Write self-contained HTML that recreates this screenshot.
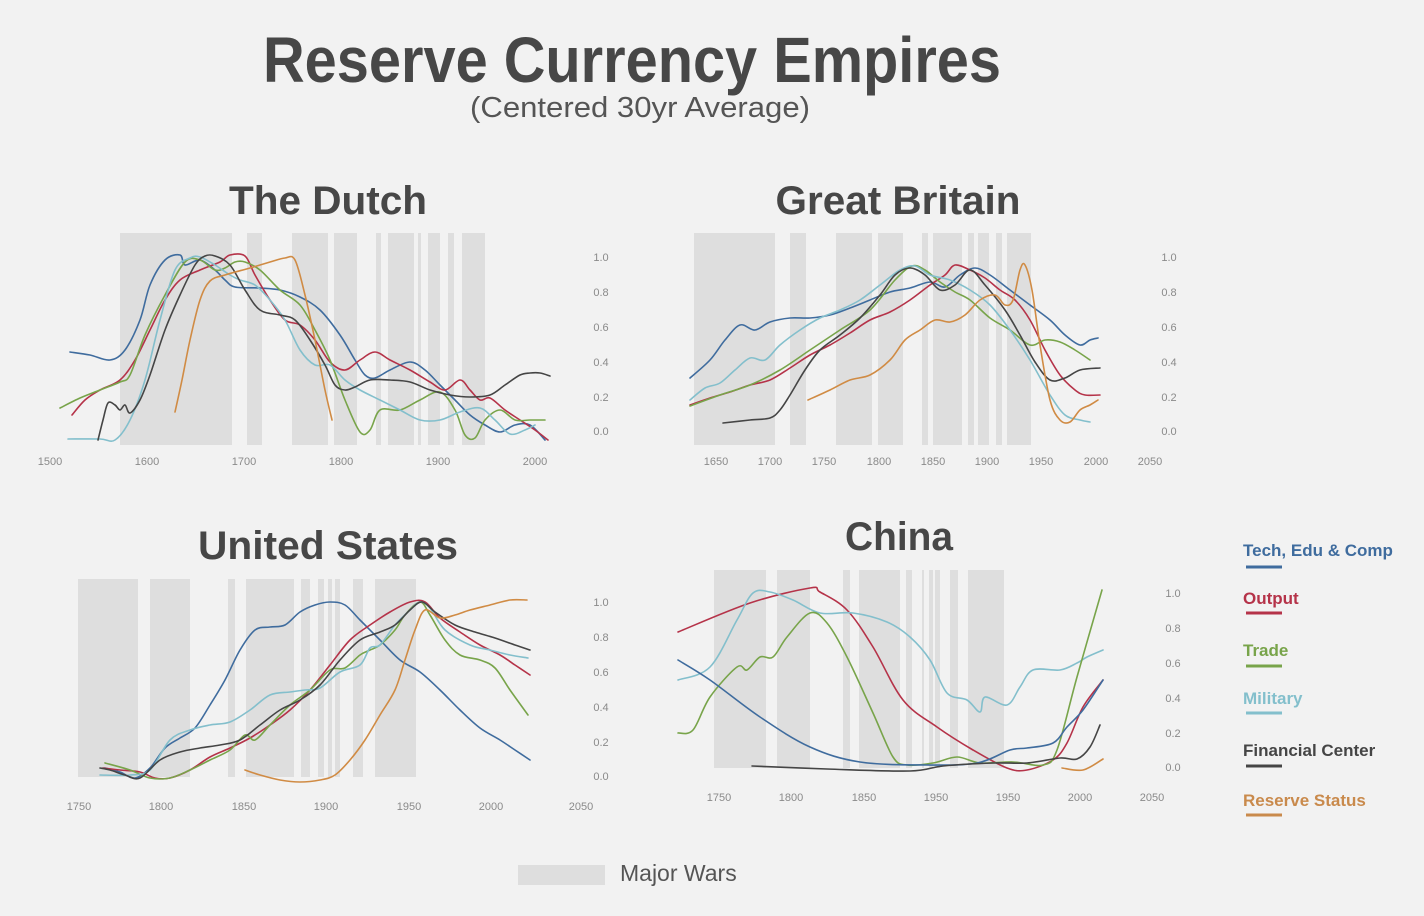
<!DOCTYPE html>
<html><head><meta charset="utf-8">
<style>
html,body{margin:0;padding:0;background:#f2f2f2;}
svg{display:block;font-family:"Liberation Sans",sans-serif;}
.t{font-weight:bold;fill:#474747;}
.tk{font-size:11px;fill:#8a8a8a;}
.w{fill:#dedede;}
path{fill:none;stroke-width:1.6;stroke-linejoin:round;stroke-linecap:round;}
.b{stroke:#3f6c9e}.r{stroke:#b53349}.g{stroke:#78a44a}.l{stroke:#83bfcc}.d{stroke:#454545}.o{stroke:#d08b44}
.lg{font-size:17px;font-weight:bold;}
</style></head><body>
<svg width="1424" height="916" viewBox="0 0 1424 916" xmlns="http://www.w3.org/2000/svg">
<rect width="1424" height="916" fill="#f2f2f2"/>
<text class="t" x="632" y="82" font-size="64" text-anchor="middle" textLength="738" lengthAdjust="spacingAndGlyphs">Reserve Currency Empires</text>
<text x="640" y="117" font-size="29" fill="#555" text-anchor="middle" textLength="340" lengthAdjust="spacingAndGlyphs">(Centered 30yr Average)</text>

<text class="t" x="328" y="214" font-size="40" text-anchor="middle" textLength="198" lengthAdjust="spacingAndGlyphs">The Dutch</text>
<text class="t" x="898" y="214" font-size="40" text-anchor="middle" textLength="245" lengthAdjust="spacingAndGlyphs">Great Britain</text>
<text class="t" x="328" y="559" font-size="40" text-anchor="middle" textLength="260" lengthAdjust="spacingAndGlyphs">United States</text>
<text class="t" x="899" y="550" font-size="40" text-anchor="middle" textLength="108" lengthAdjust="spacingAndGlyphs">China</text>

<g id="bars"></g>
<g id="ticks" class="tk"></g>
<g id="lines"></g>

<g class="lg">
<text x="1243" y="556" fill="#3f6c9e">Tech, Edu &amp; Comp</text>
<text x="1243" y="604" fill="#b53349">Output</text>
<text x="1243" y="656" fill="#78a44a">Trade</text>
<text x="1243" y="704" fill="#83bfcc">Military</text>
<text x="1243" y="756" fill="#454545">Financial Center</text>
<text x="1243" y="806" fill="#c98a4c">Reserve Status</text>
</g>
<g stroke-width="3">
<line x1="1246" x2="1282" y1="567" y2="567" stroke="#3f6c9e"/>
<line x1="1246" x2="1282" y1="613" y2="613" stroke="#b53349"/>
<line x1="1246" x2="1282" y1="666" y2="666" stroke="#78a44a"/>
<line x1="1246" x2="1282" y1="713" y2="713" stroke="#83bfcc"/>
<line x1="1246" x2="1282" y1="766" y2="766" stroke="#454545"/>
<line x1="1246" x2="1282" y1="815" y2="815" stroke="#c98a4c"/>
</g>
<rect x="518" y="865" width="87" height="20" fill="#dedede"/>
<text x="620" y="881" font-size="23" fill="#555">Major Wars</text>

<!-- tick labels -->
<g class="tk">
<text x="50" y="465" text-anchor="middle">1500</text><text x="147" y="465" text-anchor="middle">1600</text><text x="244" y="465" text-anchor="middle">1700</text><text x="341" y="465" text-anchor="middle">1800</text><text x="438" y="465" text-anchor="middle">1900</text><text x="535" y="465" text-anchor="middle">2000</text>
<text x="716" y="465" text-anchor="middle">1650</text><text x="770" y="465" text-anchor="middle">1700</text><text x="824" y="465" text-anchor="middle">1750</text><text x="879" y="465" text-anchor="middle">1800</text><text x="933" y="465" text-anchor="middle">1850</text><text x="987" y="465" text-anchor="middle">1900</text><text x="1041" y="465" text-anchor="middle">1950</text><text x="1096" y="465" text-anchor="middle">2000</text><text x="1150" y="465" text-anchor="middle">2050</text>
<text x="79" y="810" text-anchor="middle">1750</text><text x="161" y="810" text-anchor="middle">1800</text><text x="244" y="810" text-anchor="middle">1850</text><text x="326" y="810" text-anchor="middle">1900</text><text x="409" y="810" text-anchor="middle">1950</text><text x="491" y="810" text-anchor="middle">2000</text><text x="581" y="810" text-anchor="middle">2050</text>
<text x="719" y="801" text-anchor="middle">1750</text><text x="791" y="801" text-anchor="middle">1800</text><text x="864" y="801" text-anchor="middle">1850</text><text x="936" y="801" text-anchor="middle">1950</text><text x="1008" y="801" text-anchor="middle">1950</text><text x="1080" y="801" text-anchor="middle">2000</text><text x="1152" y="801" text-anchor="middle">2050</text>
<g text-anchor="middle">
<text x="601" y="261">1.0</text><text x="601" y="296">0.8</text><text x="601" y="331">0.6</text><text x="601" y="366">0.4</text><text x="601" y="401">0.2</text><text x="601" y="435">0.0</text>
<text x="1169" y="261">1.0</text><text x="1169" y="296">0.8</text><text x="1169" y="331">0.6</text><text x="1169" y="366">0.4</text><text x="1169" y="401">0.2</text><text x="1169" y="435">0.0</text>
<text x="601" y="606">1.0</text><text x="601" y="641">0.8</text><text x="601" y="676">0.6</text><text x="601" y="711">0.4</text><text x="601" y="746">0.2</text><text x="601" y="780">0.0</text>
<text x="1173" y="597">1.0</text><text x="1173" y="632">0.8</text><text x="1173" y="667">0.6</text><text x="1173" y="702">0.4</text><text x="1173" y="737">0.2</text><text x="1173" y="771">0.0</text>
</g>
</g>
</svg>
<script>
var NS="http://www.w3.org/2000/svg";
var bars=document.getElementById('bars');
function B(y1,y2,list){for(var i=0;i<list.length;i+=2){var r=document.createElementNS(NS,'rect');r.setAttribute('x',list[i]);r.setAttribute('y',y1);r.setAttribute('width',list[i+1]-list[i]);r.setAttribute('height',y2-y1);r.setAttribute('class','w');bars.appendChild(r);}}
B(233,445,[120,232,247,262,292,328,334,357,376,381,388,414,418,421,428,440,448,454,462,485]);
B(233,445,[694,775,790,806,836,872,878,903,922,928,933,962,968,974,978,989,996,1002,1007,1031]);
B(579,777,[78,138,150,190,228,235,246,294,301,310,318,324,328,332,335,340,353,363,375,416]);
B(570,768,[714,766,777,810,843,850,859,900,906,912,922,924,929,933,935,940,950,958,968,1004]);
var lines=document.getElementById('lines');
function L(c,p){var d='M'+p[0]+','+p[1];var pts=[];for(var i=0;i<p.length;i+=2)pts.push([p[i],p[i+1]]);
for(var i=0;i<pts.length-1;i++){var p0=pts[Math.max(i-1,0)],p1=pts[i],p2=pts[i+1],p3=pts[Math.min(i+2,pts.length-1)];
d+=' C'+(p1[0]+(p2[0]-p0[0])/6)+','+(p1[1]+(p2[1]-p0[1])/6)+' '+(p2[0]-(p3[0]-p1[0])/6)+','+(p2[1]-(p3[1]-p1[1])/6)+' '+p2[0]+','+p2[1];}
var e=document.createElementNS(NS,'path');e.setAttribute('d',d);e.setAttribute('class',c);lines.appendChild(e);}
// Dutch
L('b',[70,352,90,355,110,360,125,350,140,320,150,285,165,260,180,255,185,265,200,260,215,270,225,280,235,287,260,288,280,290,300,297,320,310,340,335,355,360,365,375,375,378,390,370,410,362,425,370,440,385,455,400,470,415,485,425,500,432,515,425,530,425,545,440]);
L('r',[72,415,85,400,100,390,120,380,135,360,150,330,165,300,180,280,200,270,220,262,230,255,245,256,255,275,270,300,285,320,300,325,315,340,330,362,345,370,360,360,375,352,390,360,410,370,430,382,445,390,460,380,470,390,480,400,490,398,505,410,520,420,535,430,548,440]);
L('g',[60,408,80,398,100,390,120,382,130,375,145,335,165,295,185,262,200,260,215,270,225,268,235,262,245,262,260,270,280,290,300,305,315,330,330,360,345,400,360,432,370,430,380,410,400,410,420,400,440,392,455,410,465,435,475,438,485,420,500,410,515,420,530,420,545,420]);
L('l',[68,439,100,439,115,440,130,420,145,380,160,320,175,270,190,258,200,257,215,265,230,275,240,280,255,285,270,300,285,320,300,350,315,365,330,365,345,380,360,390,380,400,400,410,420,420,440,420,460,412,480,408,495,420,510,434,525,430,535,425]);
L('d',[98,440,103,420,108,403,115,405,120,410,125,405,130,413,140,400,150,375,165,330,180,295,195,265,205,256,215,256,230,265,245,290,260,310,280,315,295,320,310,340,325,365,335,385,345,390,355,387,370,380,390,380,410,382,430,390,450,395,470,397,490,395,505,385,520,375,530,373,540,373,550,376]);
L('o',[175,412,182,380,190,340,200,300,210,281,225,275,250,268,270,262,285,258,295,260,305,295,315,340,325,390,332,420]);
// Britain
L('b',[690,378,710,360,725,340,740,325,755,330,770,322,790,318,810,318,830,315,850,308,870,300,890,292,910,288,930,282,945,287,960,275,975,268,990,275,1010,290,1030,305,1050,320,1065,335,1080,345,1090,340,1098,338]);
L('r',[690,405,710,398,730,392,750,385,770,380,790,368,810,355,830,345,850,333,870,320,890,312,910,300,930,285,945,275,955,265,970,270,985,278,1000,290,1015,300,1030,320,1045,350,1060,375,1075,390,1085,395,1100,395]);
L('g',[690,406,720,395,750,385,780,370,810,350,840,330,870,310,895,280,912,266,925,270,940,282,955,292,970,300,990,318,1010,330,1030,345,1045,340,1060,342,1075,350,1090,360]);
L('l',[690,400,705,388,720,383,735,370,750,358,765,360,780,345,800,330,820,318,840,310,860,300,880,285,900,270,915,266,930,275,950,280,970,290,990,305,1010,330,1030,360,1050,395,1065,415,1080,420,1090,422]);
L('d',[723,423,750,420,770,418,780,410,790,395,805,370,820,350,840,335,860,318,880,295,895,275,910,268,925,275,940,290,955,285,970,270,985,285,1005,310,1020,335,1035,362,1050,380,1065,378,1080,370,1100,368]);
L('o',[808,400,830,390,850,380,870,375,890,360,905,340,920,330,935,320,950,322,965,315,980,300,995,295,1005,305,1013,300,1020,270,1025,265,1032,290,1040,345,1050,400,1060,420,1070,422,1080,410,1090,405,1098,400]);
// US
L('b',[105,768,120,772,135,778,150,768,165,748,180,738,195,728,210,705,225,680,240,650,255,630,270,627,285,625,300,612,315,605,330,602,345,605,360,620,380,640,400,660,420,672,440,690,460,710,480,728,500,740,515,750,530,760]);
L('r',[103,768,120,770,140,772,155,778,170,778,190,770,210,757,230,748,250,738,270,725,290,710,310,690,330,665,350,640,370,625,390,612,410,602,425,602,440,618,460,632,480,645,500,655,515,665,530,675]);
L('g',[105,763,130,770,150,778,170,778,190,770,210,760,230,750,245,735,255,740,270,725,290,705,310,690,330,670,345,668,360,655,370,650,380,645,395,630,405,615,420,602,430,615,445,640,460,655,480,660,495,668,510,690,528,715]);
L('l',[100,775,130,775,150,770,170,740,190,730,210,725,230,722,250,710,270,695,290,692,305,690,320,688,340,672,360,665,370,648,380,645,395,625,410,610,420,602,430,608,445,630,470,645,490,650,510,655,528,658]);
L('d',[100,768,110,770,125,775,140,778,160,760,180,752,200,748,220,745,240,740,260,725,280,710,300,700,320,685,340,660,360,640,380,632,395,625,410,610,422,602,435,612,455,625,475,632,495,638,515,645,530,650]);
L('o',[245,770,260,775,280,780,300,782,320,780,335,775,350,760,365,740,380,715,395,690,405,660,415,630,425,610,440,618,455,615,470,610,490,605,510,600,527,600]);
// China
L('r',[678,632,750,603,810,588,820,592,847,610,873,647,903,700,937,727,973,750,1007,768,1027,770,1053,760,1067,743,1083,707,1103,680]);
L('l',[678,680,710,667,737,620,753,593,770,592,793,600,820,613,853,613,887,622,910,637,930,660,947,693,967,700,980,712,985,697,1007,705,1020,687,1033,670,1060,670,1077,663,1087,657,1103,650]);
L('g',[678,733,693,730,710,697,737,667,747,670,760,657,773,657,787,637,810,613,827,623,847,657,873,713,893,757,907,765,933,763,957,757,980,763,1013,762,1043,765,1057,750,1077,677,1102,590]);
L('b',[678,660,710,680,760,717,810,747,860,762,927,765,977,763,1010,750,1027,748,1053,743,1067,727,1083,710,1103,680]);
L('d',[752,766,827,769,910,771,943,766,993,763,1027,763,1060,758,1077,759,1090,747,1100,725]);
L('o',[1062,768,1083,770,1103,759]);
</script>
</body></html>
